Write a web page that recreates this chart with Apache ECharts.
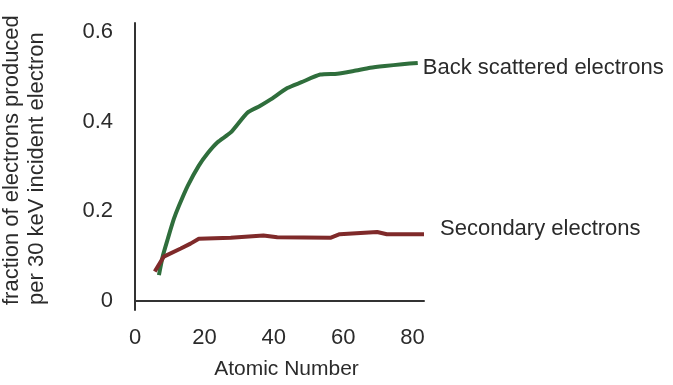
<!DOCTYPE html>
<html>
<head>
<meta charset="utf-8">
<script src="https://cdn.jsdelivr.net/npm/echarts@6/dist/echarts.min.js"></script>
<style>
  html, body { margin: 0; padding: 0; background: #fff; }
  #main { width: 673px; height: 385px; }
</style>
</head>
<body>
<div id="main"></div>
<script>
var chart = echarts.init(document.getElementById('main'));

// atomic number / fraction
var backZ = [6.9, 8.0, 9.5, 11.2, 12.7, 15.2, 18.4, 21, 23.8, 27.6, 32.4, 36, 39, 43.9, 48, 53.4, 58.3, 63, 67.8, 72, 77, 81.5];
var backV = [0.058, 0.1, 0.14, 0.183, 0.213, 0.257, 0.302, 0.33, 0.354, 0.376, 0.42, 0.435, 0.449, 0.475, 0.488, 0.505, 0.507, 0.513, 0.52, 0.524, 0.528, 0.531];
var secZ = [5.7, 8.3, 13.2, 16, 18.4, 27.6, 28, 37, 41, 56.3, 59, 69.8, 72.6, 83.3];
var secV = [0.066, 0.099, 0.117, 0.128, 0.139, 0.141, 0.145, 0.146, 0.142, 0.141, 0.149, 0.154, 0.149, 0.149];
var xTicks = [0, 20, 40, 60, 80];
var yTicks = [0, 0.2, 0.4, 0.6];

function pairs(xs, ys) {
  return xs.map(function (x, i) { return [x, ys[i]]; });
}

var txt = '#2b2b2b';
var font = 'Liberation Sans, Arial, sans-serif';

var option = {
  animation: false,
  grid: { left: 135, right: 249, top: 23, bottom: 73 },
  xAxis: {
    type: 'value',
    min: 0,
    max: 83.3,
    name: 'Atomic Number',
    nameLocation: 'middle',
    nameGap: 49,
    nameTextStyle: { color: txt, fontSize: 21, fontFamily: font, padding: [0, 0, 0, 14] },
    axisLine: { show: true, lineStyle: { color: '#333', width: 2 } },
    axisTick: { show: false },
    splitLine: { show: false },
    axisLabel: { customValues: xTicks, color: txt, fontSize: 22, fontFamily: font, margin: 17 }
  },
  yAxis: {
    type: 'value',
    min: -0.02,
    max: 0.62,
    axisLine: { show: true, lineStyle: { color: '#333', width: 2 } },
    axisTick: { show: false },
    splitLine: { show: false },
    axisLabel: { customValues: yTicks, color: txt, fontSize: 22, fontFamily: font, margin: 22 }
  },
  graphic: [
    { type: 'text', x: 12, y: 305, rotation: Math.PI / 2,
      style: { text: 'fraction of electrons produced', fill: txt, fontSize: 22, fontFamily: font, textAlign: 'left', textVerticalAlign: 'middle' } },
    { type: 'text', x: 37, y: 305, rotation: Math.PI / 2,
      style: { text: 'per 30 keV incident electron', fill: txt, fontSize: 22, fontFamily: font, textAlign: 'left', textVerticalAlign: 'middle' } }
  ],
  series: [
    {
      name: 'Back scattered electrons',
      type: 'line',
      data: pairs(backZ, backV),
      symbol: 'none',
      smooth: 0.2,
      lineStyle: { color: '#2f6e3c', width: 4 },
      endLabel: { show: true, formatter: '{a}', color: txt, fontSize: 22, fontFamily: font, distance: 5, offset: [0, 5] }
    },
    {
      name: 'Secondary electrons',
      type: 'line',
      data: pairs(secZ, secV),
      symbol: 'none',
      lineStyle: { color: '#7f2a2a', width: 4 },
      endLabel: { show: true, formatter: '{a}', color: txt, fontSize: 22, fontFamily: font, distance: 16, offset: [0, -5] }
    }
  ]
};
chart.setOption(option);
</script>
</body>
</html>
